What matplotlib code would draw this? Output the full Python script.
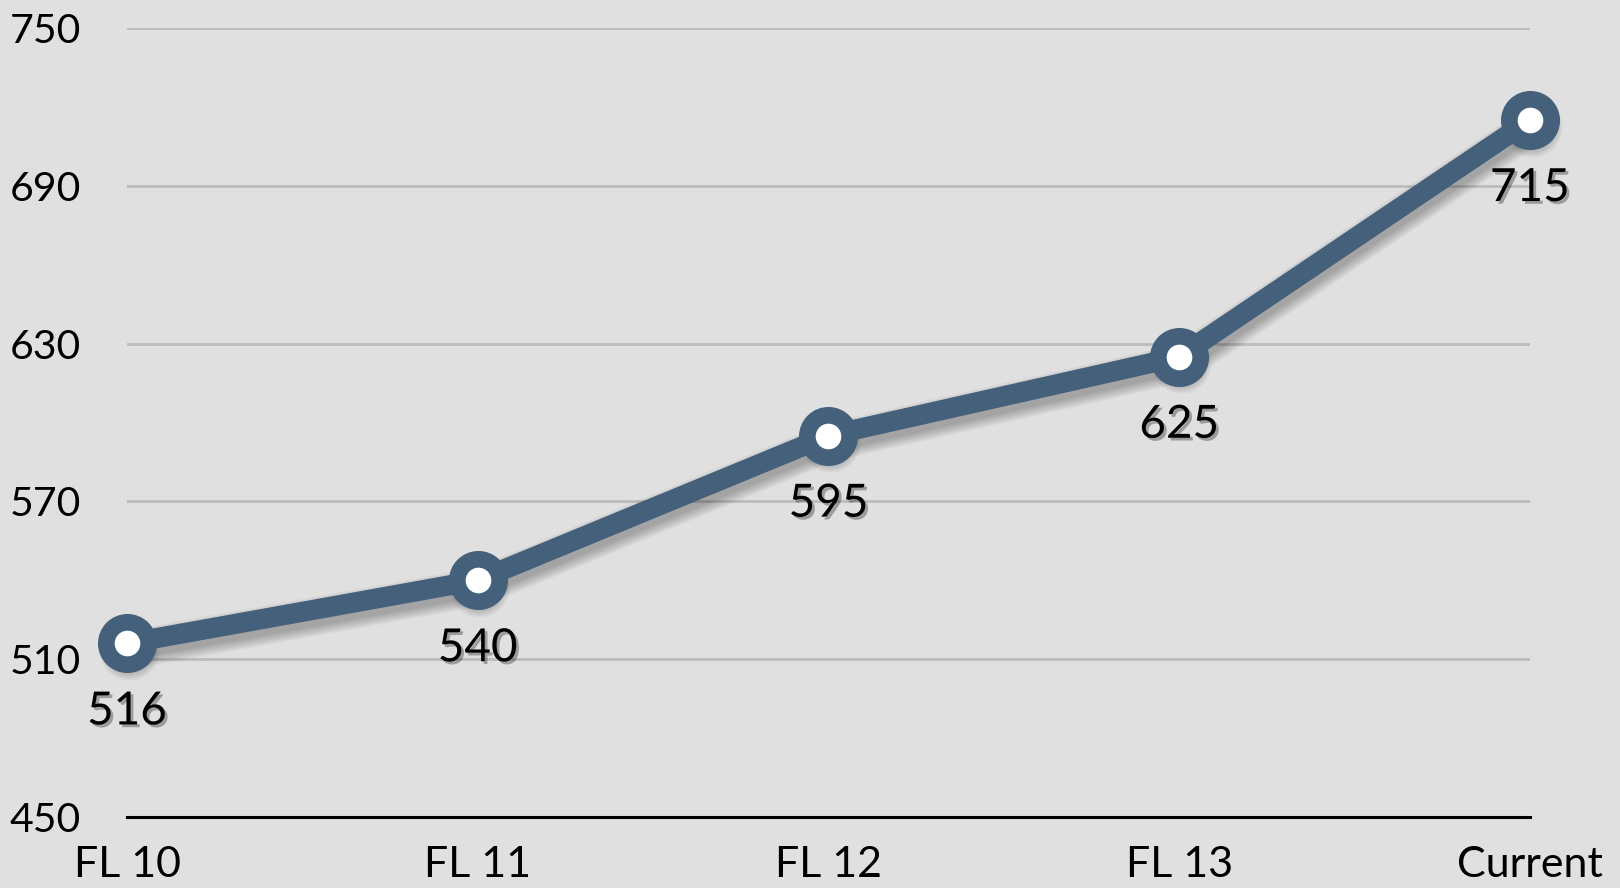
import matplotlib
matplotlib.use('Agg')
import matplotlib.pyplot as plt
import matplotlib.patheffects as pe

# данные
labels = ['FL 10', 'FL 11', 'FL 12', 'FL 13', 'Current']
values = [516, 540, 595, 625, 715]
yticks = [450, 510, 570, 630, 690, 750]

bg = '#e0e0e0'
blue = '#44607a'

plt.rcParams['font.family'] = ['Lato', 'DejaVu Sans']

fig = plt.figure(figsize=(16.2, 8.88), dpi=100, facecolor=bg)
ax = fig.add_axes([0.0784, 0.08, 0.866, 0.8885])
ax.set_facecolor(bg)

x = list(range(len(values)))

# мягкая тень — много слабых слоёв
sx = [i + 0.005 for i in x]
sy = [v - 2.5 for v in values]
for k in range(8):
    lw = 14 + 2 * k
    ax.plot(sx, sy, color='black', linewidth=lw, alpha=0.035,
            solid_capstyle='round', zorder=2, clip_on=False)
    ax.plot(sx, sy, linestyle='none', marker='o', markersize=28 + 2.2 * k,
            markeredgewidth=0, color='black', alpha=0.035, zorder=2, clip_on=False)

ax.plot(x, values, color=blue, linewidth=14.5, zorder=3, clip_on=False,
        marker='o', markersize=30.5, markeredgewidth=12,
        markerfacecolor='white', markeredgecolor=blue)

for i, v in enumerate(values):
    ax.annotate(str(v), (i, v), xytext=(0, -49), textcoords='offset points',
                ha='center', va='center', fontsize=33, color='black', zorder=5,
                path_effects=[pe.withSimplePatchShadow(offset=(2, -2), shadow_rgbFace='black', alpha=0.3)])

ax.set_xlim(0, 4)
ax.set_ylim(450, 750)
ax.set_yticks(yticks)
ax.set_xticks(x)
ax.set_xticklabels(labels)
ax.grid(axis='y', color='#bcbcbc', linewidth=2, zorder=1)
ax.set_axisbelow(True)

for s in ['top', 'right', 'left']:
    ax.spines[s].set_visible(False)
ax.spines['bottom'].set_linewidth(2.2)
ax.spines['bottom'].set_color('black')
ax.spines['bottom'].set_zorder(1)

ax.tick_params(axis='both', length=0, colors='black')
ax.tick_params(axis='y', pad=33, labelsize=29.5)
ax.tick_params(axis='x', pad=21, labelsize=31)

fig.savefig('out.png', dpi=100, facecolor=bg)
